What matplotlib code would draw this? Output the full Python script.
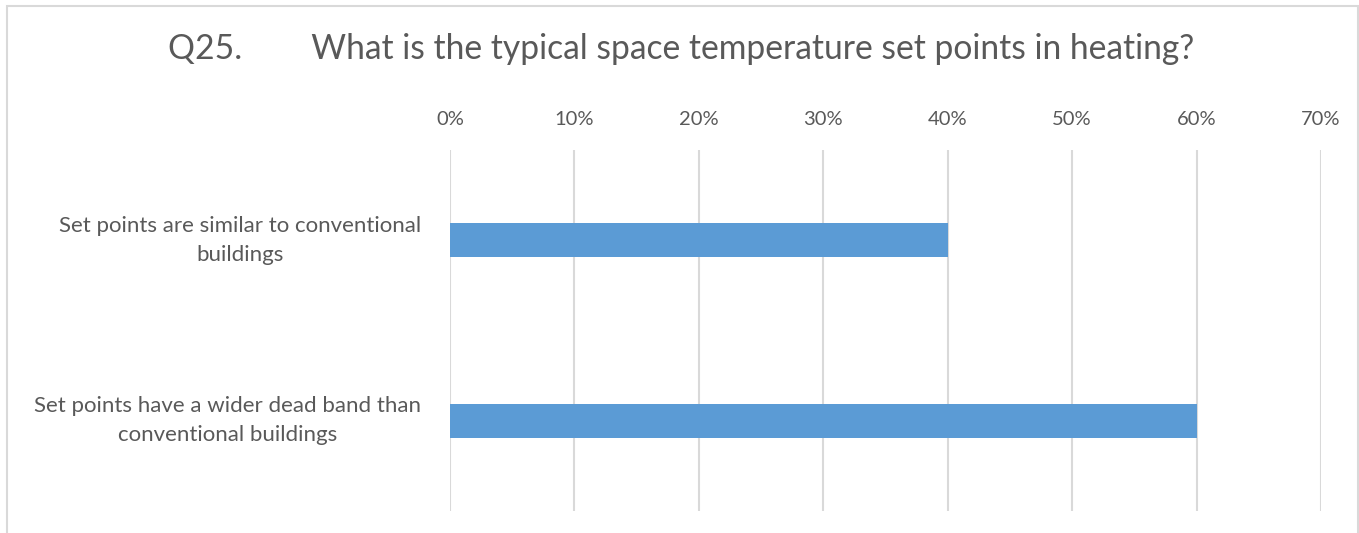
import matplotlib.pyplot as plt
from matplotlib.patches import Rectangle
from matplotlib.ticker import PercentFormatter

plt.rcParams['font.family'] = ['Lato', 'DejaVu Sans']

# Data
categories = ["Set points are similar to conventional\nbuildings",
              "Set points have a wider dead band than\nconventional buildings"]
shares = [0.40, 0.60]
ticks = [0.0, 0.1, 0.2, 0.3, 0.4, 0.5, 0.6, 0.7]

text_col = '#595959'
grid_col = '#D9D9D9'

fig = plt.figure(figsize=(13.59, 5.33), dpi=100)
ax = fig.add_axes([450/1359, 1 - 511/533, (1321 - 450)/1359, (511 - 150)/533])

# chart border (bottom is cut off in the original)
fig.patches.append(Rectangle((7/1359, -0.1), (1358 - 7)/1359, 1.1 - 6/533,
                             transform=fig.transFigure, fill=False,
                             edgecolor=grid_col, linewidth=1.5))

y = list(range(len(categories)))
ax.barh(y, shares, height=0.19, color='#5B9BD5', zorder=3)
ax.set_ylim(len(categories) - 0.5, -0.5)
ax.set_xlim(0, 0.7)

ax.set_xticks(ticks)
ax.xaxis.set_major_formatter(PercentFormatter(1.0, decimals=0))
ax.xaxis.tick_top()
ax.tick_params(axis='x', length=0, pad=16, labelsize=14.5, labelcolor=text_col)
ax.set_yticks(y)
ax.set_yticklabels(categories, multialignment='center', linespacing=1.55, va='center')
ax.tick_params(axis='y', length=0, pad=21, labelsize=16, labelcolor=text_col)

ax.grid(axis='x', color=grid_col, linewidth=1.5, zorder=0)
for s in ax.spines.values():
    s.set_visible(False)

fig.text(681/1359, 1 - 49/533, "Q25.        What is the typical space temperature set points in heating?",
         ha='center', va='center', fontsize=24.2, color=text_col)

fig.savefig('out.png', dpi=100)
